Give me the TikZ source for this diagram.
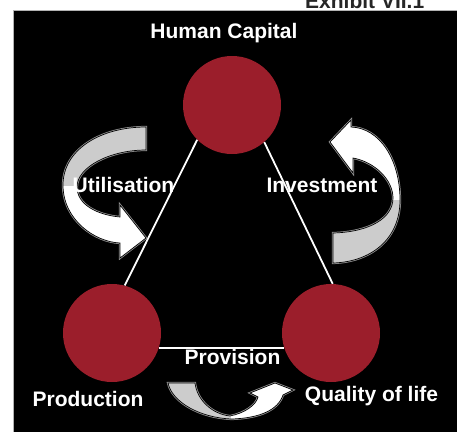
\documentclass[tikz,border=0pt]{standalone}
\usepackage{fontspec}
\setsansfont{Liberation Sans}
\usetikzlibrary{positioning}
\definecolor{hubred}{RGB}{155,30,43}
\definecolor{tailgray}{RGB}{204,204,204}
\definecolor{rimgray}{RGB}{150,150,150}
\tikzset{
    hub/.style =    {circle,
                    fill=hubred,
                    draw=none,
                    minimum size=98pt,
                    inner sep=0pt},
    tag/.style =    {text=white,
                    font=\sffamily\bfseries\fontsize{21}{25}\selectfont,
                    inner sep=0pt,
                    anchor=base},
    link/.style =   {draw=white,
                    line width=1.8pt},
    swirl/.style =  {fill=white,
                    draw=black,
                    line width=.7pt,
                    preaction={draw=rimgray, line width=2.2pt}},
    -,
    node distance=219pt}

\begin{document}
\begin{tikzpicture}[x=1pt, y=-1pt]
                \useasboundingbox (0,0) rectangle (457,431);
                \node[tag, anchor=base west, text=black!85] (exhibit) at (305,8.5) {Exhibit VII.1};
                \draw[fill=black, draw=gray!60, line width=.8pt] (13,10) rectangle (462,436);
                % the three hubs and the triangle between them
                \node[hub]          (capital)    at (232,105)         {};
                \node[hub]          (production) at (112,333)         {};
                \node[hub]          (quality)    [right of=production] {};
                \draw [link]    (capital.225)    -- (production.75);
                \draw [link]    (capital.311)    -- (quality.88);
                \draw [link]    (production.342) -- (quality.198);
                % curved arrows, grey tail and white head
                \path[swirl, path picture={\fill[tailgray] (path picture bounding box.north west) rectangle ([yshift=7pt]path picture bounding box.east);}]
                    (146,127) .. controls (100,127) and (63,150) .. (63,185)
                    .. controls (63,220) and (95,242) .. (120,243)
                    -- (120,258) -- (146,238) -- (120,205) -- (120,217)
                    .. controls (98,215) and (77,205) .. (77,187)
                    .. controls (77,167) and (110,150) .. (146,150) -- cycle;
                \path[swirl, path picture={\fill[tailgray] ([yshift=-8pt]path picture bounding box.west) rectangle (path picture bounding box.south east);}]
                    (333,263) .. controls (370,262) and (400,240) .. (400,200)
                    .. controls (400,160) and (380,128) .. (351,127)
                    -- (351,120) -- (330,142) -- (353,173) -- (353,158)
                    .. controls (375,162) and (393,180) .. (393,198)
                    .. controls (393,218) and (370,232) .. (333,233) -- cycle;
                \path[swirl, path picture={\fill[tailgray] (path picture bounding box.north west) rectangle (path picture bounding box.south);}]
                    (168,383) -- (195,383)
                    .. controls (197,400) and (212,414) .. (230,416)
                    .. controls (245,413) and (256,405) .. (258,397)
                    -- (250,393) -- (275,383) -- (293,390) -- (283,395)
                    .. controls (278,410) and (260,418) .. (232,419)
                    .. controls (200,418) and (172,402) .. (168,383) -- cycle;
                % labels
                \node[tag]          (capitaltag)    at (224,38.5)  {Human Capital};
                \node[tag]          (productiontag) at (88,406.5)  {Production};
                \node[tag]          (qualitytag)    at (371.5,401.5) {Quality of life};
                \node[tag]          (provisiontag)  at (232.5,364) {Provision};
                \node[tag]          (utilisetag)    at (123.5,192) {Utilisation};
                \node[tag]          (investtag)     at (322,192)   {Investment};
        \end{tikzpicture}
\end{document}
